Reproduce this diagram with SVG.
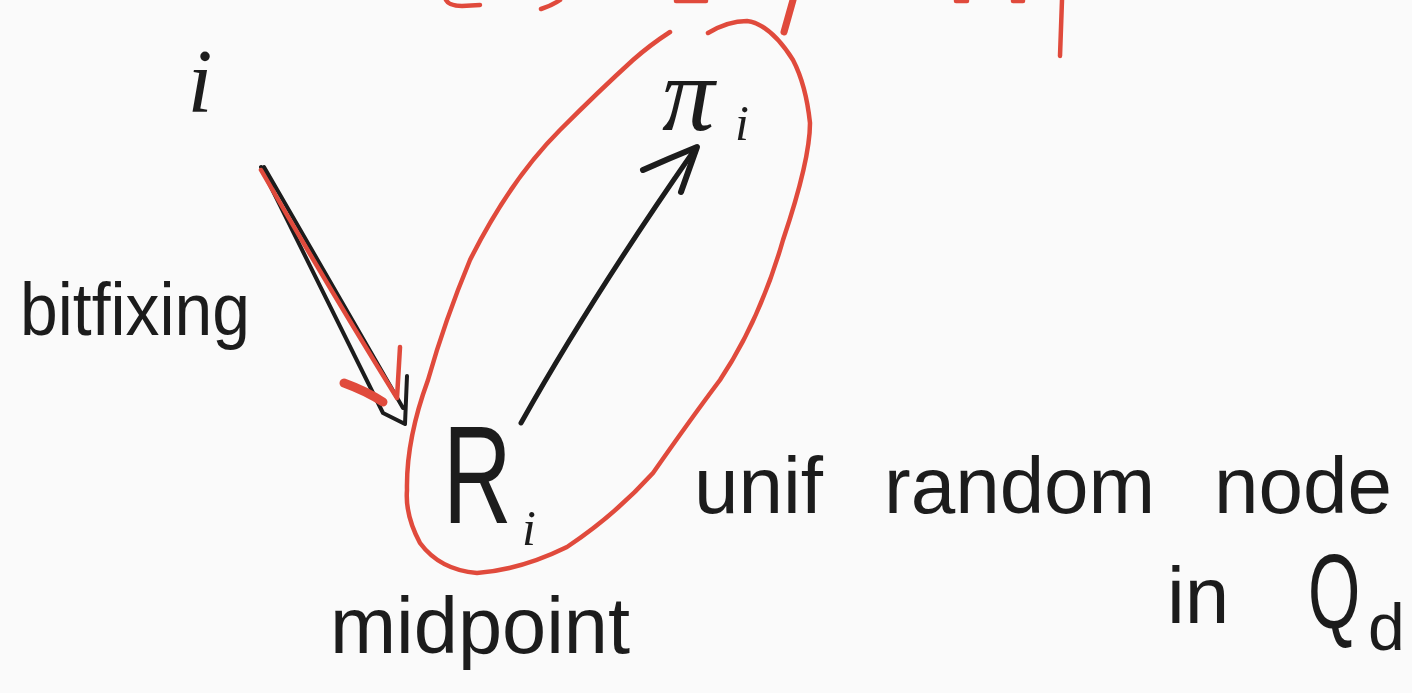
<svg xmlns="http://www.w3.org/2000/svg" width="1412" height="693" viewBox="0 0 1412 693">
<style>
.ink{fill:none;stroke:#1c1c1c;stroke-width:5;stroke-linecap:round;stroke-linejoin:round}
.red{fill:none;stroke:#e04a3c;stroke-width:4.5;stroke-linecap:round;stroke-linejoin:round}
.t{fill:#1c1c1c;font-family:"Liberation Sans",Arial,sans-serif}
.m{fill:#1c1c1c;font-family:"Liberation Serif","Times New Roman",serif;font-style:italic}
</style>
<rect width="1412" height="693" fill="#fafafa"/>
<g id="top-fragments">
<path class="red" d="M446,0 Q449,6 462,6 L480,5"/>
<path class="red" d="M541,9 Q553,5 560,0"/>
<path class="red" d="M676,1 L706,1"/>
<path class="red" d="M793,0 L784,32" style="stroke-width:7"/>
<path class="red" d="M956,1 L967,1"/>
<path class="red" d="M1013,1 L1023,1"/>
<path class="red" d="M1062,0 L1060,56"/>
</g>
<g id="group-ellipse">
<path class="red" d="M708,33 Q728,21 747,21 Q770,24 793,60 Q806,85 810,123 Q810,160 783,240 Q760,320 720,380 Q690,420 653,473 Q615,515 567,547 Q520,570 477,573 Q440,570 420,543 Q405,515 407,490 Q406,440 428,380 Q445,320 470,260 Q510,180 560,130 Q600,90 633,60 Q650,45 670,32"/>
</g>
<g id="node-i">
<text class="m" x="200" y="112" font-size="90" text-anchor="middle">i</text>
</g>
<g id="node-pi">
<text class="m" x="662" y="130" font-size="105">π</text>
<text class="m" x="735" y="140" font-size="50">i</text>
</g>
<g id="node-R">
<text class="t" transform="translate(443,523) scale(0.68,1)" font-size="140">R</text>
<text class="m" x="522" y="545" font-size="50">i</text>
</g>
<g id="label-bitfixing">
<text class="t" x="20" y="335" font-size="74" textLength="230" lengthAdjust="spacingAndGlyphs">bitfixing</text>
</g>
<g id="label-midpoint">
<text class="t" x="330" y="653" font-size="80" textLength="300" lengthAdjust="spacingAndGlyphs">midpoint</text>
</g>
<g id="label-unif">
<text class="t" y="513" font-size="80"><tspan x="694">unif</tspan> <tspan x="884">random</tspan> <tspan x="1214">node</tspan></text>
<text class="t" x="1167" y="623" font-size="80">in</text>
<text class="t" transform="translate(1308,628) scale(0.64,1)" font-size="105">Q</text>
<text class="t" x="1368" y="650" font-size="66">d</text>
</g>
<g id="connectors">
<path class="ink" style="stroke-width:4" d="M261,167 L383,413 L405,424 L407,376 M264,167 L403,408"/>
<path class="red" d="M261,170 Q330,290 397,398 M400,347 L397,398"/>
<path class="red" style="stroke-width:9" d="M344,383 Q366,391 383,402"/>
<path class="ink" d="M521,423 Q590,300 693,152"/>
<path class="ink" style="stroke-width:6" d="M643,170 Q670,158 697,147 L681,192"/>
</g>
</svg>
